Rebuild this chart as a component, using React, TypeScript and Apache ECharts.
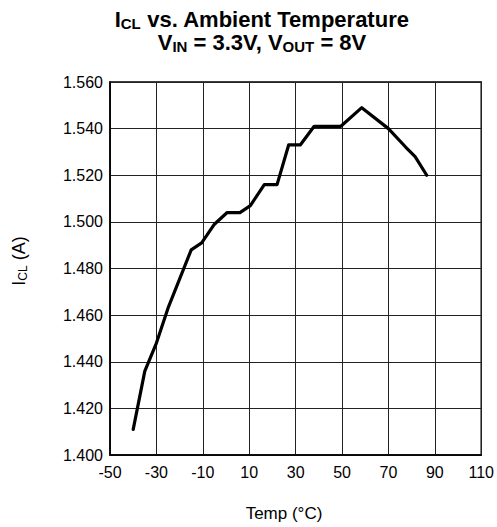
import React, { useEffect, useRef } from "react";
import * as echarts from "echarts";

const temps = [-40, -35, -30, -25, -15, -10.5, -5, 0.5, 6, 10.5, 16.5, 22, 27, 32, 38, 49.5, 58.5, 70, 77.5, 81.5, 86.5];
const iclValues = [1.411, 1.436, 1.448, 1.463, 1.488, 1.491, 1.499, 1.504, 1.504, 1.507, 1.516, 1.516, 1.533, 1.533, 1.541, 1.541, 1.549, 1.540, 1.532, 1.528, 1.520];

const xMin = -50;
const xMax = 110;
const xStep = 20;
const yMin = 1.4;
const yMax = 1.56;
const yStep = 0.02;

const FONT = "'Liberation Sans', Arial, Helvetica, sans-serif";

export default function App() {
  const ref = useRef<HTMLDivElement>(null);
  useEffect(() => {
    if (!ref.current) return;
    const chart = echarts.init(ref.current, null, { renderer: "svg" });
    const data = temps.map((t, i) => [t, iclValues[i]]);
    const titleMain = { fontSize: 22, fontWeight: "bold", fontFamily: FONT, lineHeight: 20 };
    const titleSub = { fontSize: 15, fontWeight: "bold", fontFamily: FONT, lineHeight: 12, padding: [8, 0, 0, 0] };
    chart.setOption({
      animation: false,
      backgroundColor: "#fff",
      grid: { left: 110, right: 13, top: 82, bottom: 72, show: true, borderColor: "#000", borderWidth: 1.5, containLabel: false },
      xAxis: {
        type: "value",
        min: xMin,
        max: xMax,
        interval: xStep,
        axisLine: { show: true, onZero: false, lineStyle: { color: "#000", width: 1.5 } },
        axisTick: { show: false },
        splitLine: { show: true, lineStyle: { color: "#222", width: 1 } },
        axisLabel: { color: "#000", fontSize: 16, fontFamily: FONT, margin: 9 },
      },
      yAxis: {
        type: "value",
        min: yMin,
        max: yMax,
        interval: yStep,
        axisLine: { show: true, onZero: false, lineStyle: { color: "#000", width: 1.5 } },
        axisTick: { show: false },
        splitLine: { show: true, lineStyle: { color: "#222", width: 1 } },
        axisLabel: {
          color: "#000",
          fontSize: 16,
          fontFamily: FONT,
          margin: 7,
          formatter: (v: number) => v.toFixed(3),
        },
      },
      graphic: [
        {
          type: "text",
          x: 262,
          y: 19,
          style: {
            text: "{m|I}{s|CL}{m| vs. Ambient Temperature}",
            align: "center",
            verticalAlign: "middle",
            fill: "#000",
            rich: { m: titleMain, s: titleSub },
          },
        },
        {
          type: "text",
          x: 262,
          y: 42,
          style: {
            text: "{m|V}{s|IN}{m| = 3.3V, V}{s|OUT}{m| = 8V}",
            align: "center",
            verticalAlign: "middle",
            fill: "#000",
            rich: { m: titleMain, s: titleSub },
          },
        },
        {
          type: "text",
          x: 284,
          y: 513,
          style: {
            text: "Temp (°C)",
            align: "center",
            verticalAlign: "middle",
            fill: "#000",
            fontSize: 17,
            fontFamily: FONT,
          },
        },
        {
          type: "text",
          x: 19,
          y: 261,
          rotation: Math.PI / 2,
          style: {
            text: "{m|I}{s|CL}{m| (A)}",
            align: "center",
            verticalAlign: "middle",
            fill: "#000",
            rich: {
              m: { fontSize: 18, fontFamily: FONT, lineHeight: 20 },
              s: { fontSize: 12, fontFamily: FONT, lineHeight: 12, padding: [8, 0, 0, 0] },
            },
          },
        },
      ],
      series: [
        {
          type: "line",
          data,
          showSymbol: false,
          symbol: "none",
          lineStyle: { color: "#000", width: 3.2, cap: "round", join: "round" },
          z: 5,
        },
      ],
    });
    return () => chart.dispose();
  }, []);
  return <div ref={ref} style={{ width: 497, height: 527, position: "absolute", left: 0, top: 0 }} />;
}
